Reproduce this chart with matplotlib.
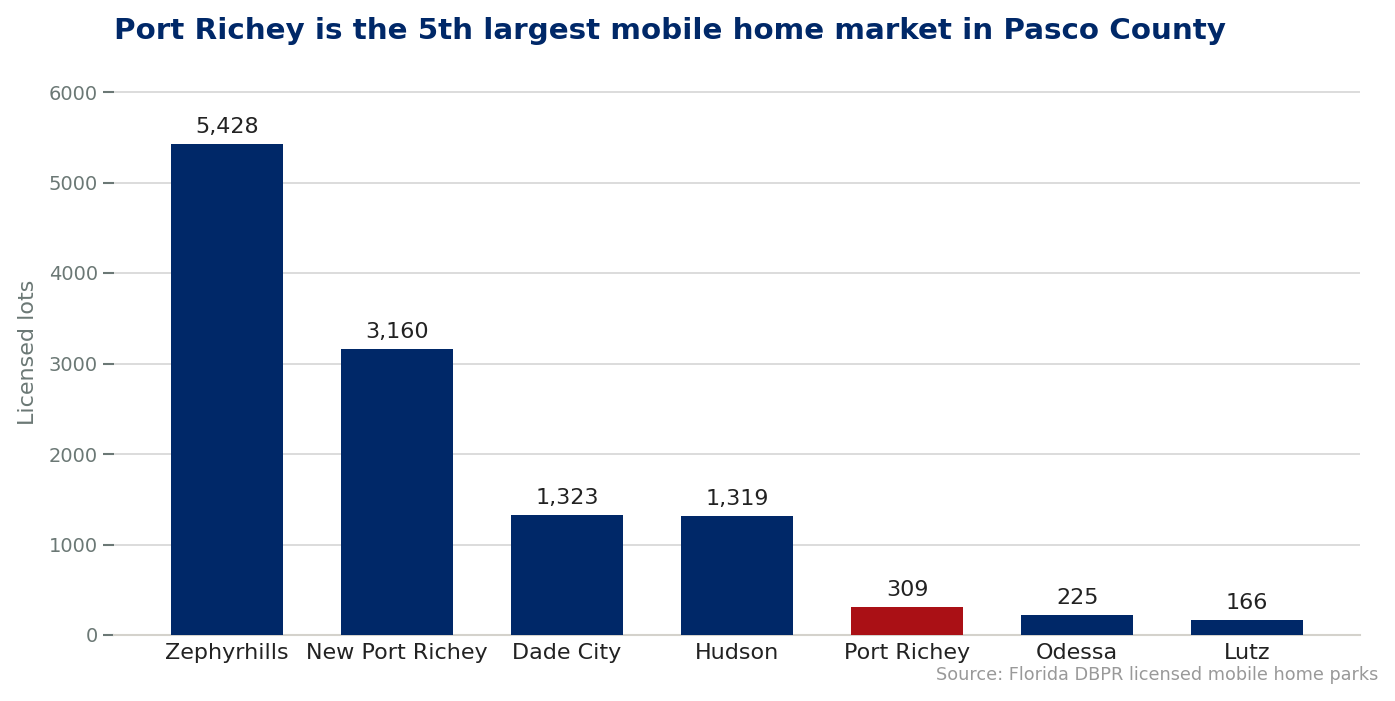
import matplotlib
matplotlib.use("Agg")
import matplotlib.pyplot as plt

cities = ["Zephyrhills", "New Port Richey", "Dade City", "Hudson", "Port Richey", "Odessa", "Lutz"]
lots = [5428, 3160, 1323, 1319, 309, 225, 166]
highlight = "Port Richey"

NAVY = "#002868"
RED = "#AA1015"

fig = plt.figure(figsize=(13.95, 7.01), dpi=100)
ax = fig.add_axes([114/1395, 1 - 635/701, (1360-114)/1395, (635-70)/701])

colors = [RED if c == highlight else NAVY for c in cities]
x = range(len(cities))
bars = ax.bar(x, lots, width=0.66, color=colors, zorder=3)
ax.set_xticks(list(x))
ax.set_xticklabels(cities, fontsize=16, color="#222222")
ax.set_ylim(0, 6000 * 565 / 543)
ax.set_yticks([0, 1000, 2000, 3000, 4000, 5000, 6000])
ax.tick_params(axis="y", labelsize=14, labelcolor="#6B7875", color="#6B7875", length=8, width=1.5)
ax.tick_params(axis="x", length=0, pad=6)
ax.grid(axis="y", color="#D9D9D9", linewidth=1.3, zorder=0)
for s in ["top", "right", "left"]:
    ax.spines[s].set_visible(False)
ax.spines["bottom"].set_color("#D4D2CC")
ax.spines["bottom"].set_linewidth(1.5)

for b, v in zip(bars, lots):
    ax.annotate(f"{v:,}", (b.get_x() + b.get_width() / 2, v), xytext=(0, 5),
                textcoords="offset points", ha="center", va="bottom",
                fontsize=16, color="#222222")

ax.set_ylabel("Licensed lots", fontsize=16, color="#6B7875")
ax.yaxis.set_label_coords(-0.061, 0.5)
fig.text(114/1395, 1 - 31/701, "Port Richey is the 5th largest mobile home market in Pasco County",
         fontsize=21.2, fontweight="bold", color=NAVY, ha="left", va="center")
fig.text(1378/1395, 1 - 675/701, "Source: Florida DBPR licensed mobile home parks",
         fontsize=12.7, color="#999999", ha="right", va="center")

fig.savefig("out.png", dpi=100)
